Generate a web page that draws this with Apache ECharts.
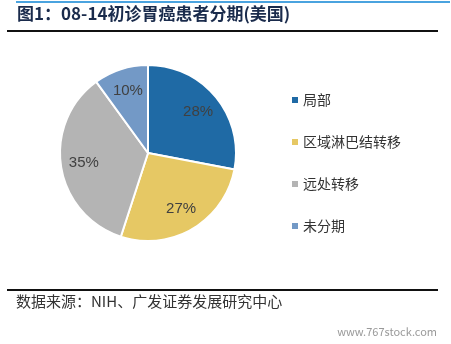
<!DOCTYPE html>
<html><head><meta charset="utf-8">
<script src="https://cdn.jsdelivr.net/npm/echarts@6/dist/echarts.min.js"></script>
<style>html,body{margin:0;padding:0;background:#fff}#c{width:451px;height:344px}</style>
</head><body><div id="c"></div>
<script>
const categories = ['局部', '区域淋巴结转移', '远处转移', '未分期'];
const values = [28, 27, 35, 10];
const colors = ['#1f6aa5', '#e6c864', '#b4b4b4', '#7399c6'];
const titleText = '图1：08-14初诊胃癌患者分期(美国)';
const sourceText = '数据来源：NIH、广发证券发展研究中心';
const watermark = 'www.767stock.com';

const data = categories.map((n, i) => ({ name: n, value: values[i], itemStyle: { color: colors[i] } }));
const chart = echarts.init(document.getElementById('c'));
const font = '"Noto Sans CJK SC", sans-serif';
chart.setOption({
  animation: false,
  graphic: [
    { type: 'rect', shape: { x: 16, y: 1, width: 434, height: 2 }, style: { fill: '#4aa3df' } },
    { type: 'text', left: 17, top: 5, style: { text: titleText, fill: '#1a2b4c', font: 'bold 17px ' + font } },
    { type: 'rect', shape: { x: 7, y: 30, width: 431, height: 2 }, style: { fill: '#111' } },
    { type: 'rect', shape: { x: 7, y: 289, width: 431, height: 2 }, style: { fill: '#111' } },
    { type: 'text', left: 16, top: 294, style: { text: sourceText, fill: '#333', font: '15px ' + font } },
    { type: 'text', right: 14, top: 326, style: { text: watermark, fill: '#999', font: '11px ' + font } }
  ],
  legend: {
    orient: 'vertical', left: 287, top: 88, itemGap: 28,
    itemWidth: 6, itemHeight: 6, icon: 'rect', itemStyle: { borderWidth: 0 },
    textStyle: { fontSize: 14, color: '#333', fontFamily: font },
    data: categories
  },
  series: [
    {
      type: 'pie', center: [148, 153], radius: [0, 88], startAngle: 90, clockwise: true,
      data: data,
      itemStyle: { borderColor: '#fff', borderWidth: 2 },
      label: { show: false }, labelLine: { show: false }, silent: true
    },
    {
      type: 'pie', center: [148, 153], radius: [36, 88], startAngle: 90, clockwise: true,
      data: data.map(d => ({ name: d.name, value: d.value, itemStyle: { color: 'rgba(0,0,0,0)' } })),
      itemStyle: { borderWidth: 0 },
      label: { show: true, position: 'inside', formatter: '{c}%', fontSize: 15, color: '#404040', fontFamily: 'Arial, "Liberation Sans", sans-serif' },
      labelLine: { show: false }, silent: true, legendHoverLink: false
    }
  ]
});
</script></body></html>
